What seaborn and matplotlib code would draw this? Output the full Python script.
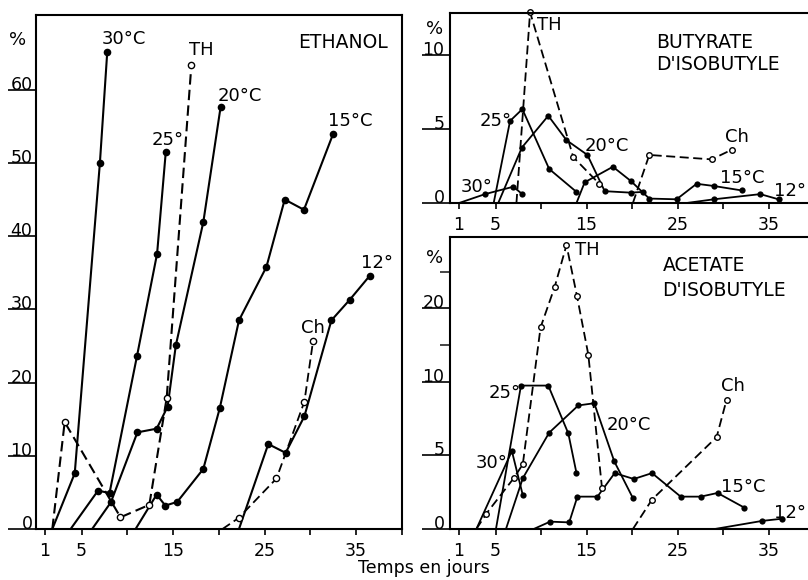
import numpy as np
import pandas as pd
import matplotlib
matplotlib.use('Agg')
import matplotlib.pyplot as plt
import seaborn as sns

# ethanol (%), day on x
e30_x = [1.8, 4.25, 7.0, 7.8]
e30_y = [0, 7.6, 50, 65.1]
e25_x = [3.8, 6.8, 8.05, 11.05, 13.25, 14.2]
e25_y = [0, 5.25, 4.9, 23.6, 37.6, 51.5]
e20_x = [6.15, 8.2, 11.1, 13.2, 14.4, 15.3, 18.3, 20.2]
e20_y = [0, 3.65, 13.2, 13.7, 16.7, 25.1, 41.9, 57.7]
e15_x = [10.9, 13.2, 14.15, 15.45, 18.3, 20.1, 22.2, 25.2, 27.2, 29.3, 32.5]
e15_y = [0, 4.7, 3.2, 3.7, 8.2, 16.5, 28.5, 35.8, 45.0, 43.6, 54.0]
e12_x = [22.2, 25.4, 27.3, 29.35, 32.3, 34.3, 36.5]
e12_y = [0, 11.6, 10.4, 15.4, 28.5, 31.3, 34.6]
eTH_x = [1.8, 3.15, 9.25, 12.4, 14.3, 17.0]
eTH_y = [0, 14.6, 1.6, 3.3, 17.9, 63.4]
eCh_x = [20.4, 22.15, 26.3, 29.35, 30.3]
eCh_y = [0, 1.5, 6.9, 17.4, 25.7]

# butyrate d'isobutyle
b30_x = [1.0, 3.85, 6.95, 7.95]
b30_y = [0, 0.6, 1.1, 0.6]
b25_x = [4.8, 6.6, 7.95, 10.9, 13.9]
b25_y = [0, 5.55, 6.35, 2.3, 0.75]
b20_x = [5.3, 7.9, 10.8, 12.8, 15.1, 17.0, 19.85, 21.2]
b20_y = [0, 3.75, 5.9, 4.25, 3.25, 0.8, 0.7, 0.75]
b15_x = [13.9, 14.8, 17.9, 19.85, 21.9, 24.9, 27.1, 29.0, 32.05]
b15_y = [0, 1.4, 2.45, 1.5, 0.3, 0.25, 1.3, 1.15, 0.85]
b12_x = [26.0, 29.0, 34.1, 36.1]
b12_y = [0, 0.25, 0.6, 0.25]
bTH_x = [7.3, 8.8, 13.55, 16.4]
bTH_y = [0, 12.9, 3.1, 1.3]
bCh_x = [20.1, 21.9, 28.75, 30.95]
bCh_y = [0, 3.25, 2.95, 3.6]

# acetate d'isobutyle
a30_x = [2.9, 6.8, 8.0]
a30_y = [0, 5.3, 2.3]
a25_x = [5.05, 7.8, 10.8, 13.0, 13.9]
a25_y = [0, 9.75, 9.75, 6.5, 3.8]
a20_x = [6.15, 8.0, 10.9, 14.1, 15.85, 18.05, 20.1]
a20_y = [0, 3.45, 6.55, 8.4, 8.55, 4.6, 2.1]
a15_x = [9.2, 11.0, 13.1, 14.0, 16.2, 18.1, 20.2, 22.2, 25.35, 27.55, 29.4, 32.35]
a15_y = [0, 0.5, 0.45, 2.2, 2.2, 3.8, 3.4, 3.8, 2.2, 2.2, 2.45, 1.45]
a12_x = [29.1, 34.3, 36.5]
a12_y = [0, 0.55, 0.7]
aTH_x = [2.9, 4.0, 7.0, 8.0, 9.95, 11.5, 12.8, 13.95, 15.2, 16.7]
aTH_y = [0, 1.05, 3.45, 4.4, 17.4, 22.9, 28.6, 21.7, 13.7, 2.8]
aCh_x = [20.1, 22.2, 29.3, 30.4]
aCh_y = [0, 2.0, 6.25, 8.8]

day_ticks = [1, 5, 10, 15, 20, 25, 30, 35, 40]
day_labels = ['1', '5', '', '15', '', '25', '', '35', '']

sns.set_theme(style='white')
plt.rcParams['font.family'] = ['DejaVu Sans']

W, H = 808, 580
fig = plt.figure(figsize=(W / 100, H / 100), dpi=100)


def box(l, t, r, b):
    return [l / W, 1 - b / H, (r - l) / W, (b - t) / H]


ax_e = fig.add_axes(box(35.85, 15, 35.85 + 40 * 9.15, 529))
ax_b = fig.add_axes(box(450, 13, 450 + 40 * 9.1, 203))
ax_a = fig.add_axes(box(450, 237, 450 + 40 * 9.1, 529))


# acetate axis is compressed above 10 %
def fwd(v):
    v = np.asarray(v, dtype=float)
    return np.where(v <= 10, v, 10 + (v - 10) / 2)


def inv(v):
    v = np.asarray(v, dtype=float)
    return np.where(v <= 10, v, 10 + (v - 10) * 2)


ax_a.set_yscale('function', functions=(fwd, inv))


def draw(ax, x, y, dashed=False, hollow=False, ms=5.0, lw=1.4):
    df = pd.DataFrame({'jour': x, 'pct': y})
    sns.lineplot(data=df, x='jour', y='pct', ax=ax, sort=False, estimator=None,
                 color='black', lw=lw,
                 linestyle=(0, (5, 2.5)) if dashed else '-',
                 marker='o', markersize=ms, markevery=slice(1, None),
                 markerfacecolor='white' if hollow else 'black',
                 markeredgecolor='black', markeredgewidth=1.0 if hollow else 0,
                 clip_on=False)


for xs, ys in [(e30_x, e30_y), (e25_x, e25_y), (e20_x, e20_y), (e15_x, e15_y), (e12_x, e12_y)]:
    draw(ax_e, xs, ys, ms=5.5, lw=1.5)
draw(ax_e, eTH_x, eTH_y, dashed=True, hollow=True, ms=4.5, lw=1.5)
draw(ax_e, eCh_x, eCh_y, dashed=True, hollow=True, ms=4.5, lw=1.3)

for xs, ys in [(b30_x, b30_y), (b25_x, b25_y), (b20_x, b20_y), (b15_x, b15_y), (b12_x, b12_y)]:
    draw(ax_b, xs, ys, ms=4.5, lw=1.3)
draw(ax_b, bTH_x, bTH_y, dashed=True, hollow=True, ms=4.0, lw=1.3)
draw(ax_b, bCh_x, bCh_y, dashed=True, hollow=True, ms=4.0, lw=1.3)

for xs, ys in [(a30_x, a30_y), (a25_x, a25_y), (a20_x, a20_y), (a15_x, a15_y), (a12_x, a12_y)]:
    draw(ax_a, xs, ys, ms=4.5, lw=1.3)
draw(ax_a, aTH_x, aTH_y, dashed=True, hollow=True, ms=4.0, lw=1.3)
draw(ax_a, aCh_x, aCh_y, dashed=True, hollow=True, ms=4.0, lw=1.3)

ax_e.set_xlim(0, 40)
ax_e.set_ylim(0, 70.2)
ax_b.set_xlim(0, 40)
ax_b.set_ylim(0, 12.85)
ax_a.set_xlim(0, 40)
ax_a.set_ylim(0, 29.7)

ax_e.set_yticks([0, 10, 20, 30, 40, 50, 60])
ax_e.set_yticklabels(['0', '10', '20', '30', '40', '50', '60'])
ax_b.set_yticks([0, 5, 10])
ax_b.set_yticklabels(['0', '5', '10'])
ax_a.set_yticks([0, 5, 10, 20])
ax_a.set_yticklabels(['0', '5', '10', '20'])
ax_a.set_yticks([15, 25], minor=True)

for ax, pad in [(ax_e, -17.5), (ax_b, -16), (ax_a, -16)]:
    ax.set_xticks(day_ticks)
    ax.set_xticklabels(day_labels)
    ax.set_xlabel('')
    ax.set_ylabel('')
    ax.tick_params(axis='x', direction='out', length=4, width=1.2, pad=5,
                   labelsize=12.5, bottom=True, colors='black')
    ax.tick_params(axis='y', which='major', direction='out', length=20, width=1.2,
                   pad=pad, labelsize=12.5, left=True, colors='black')
    for lab in ax.get_yticklabels():
        lab.set_verticalalignment('baseline')
    for sp in ax.spines.values():
        sp.set_linewidth(1.5)
        sp.set_color('black')
ax_a.tick_params(axis='y', which='minor', direction='out', length=7, width=1.2, left=True)


def lbl(px, py, s, size=13, ha='center'):
    fig.text(px / W, 1 - py / H, s, ha=ha, va='center', fontsize=size, color='black')


# ethanol labels
lbl(18, 40, '%')
lbl(124, 38.5, '30°C')
lbl(201, 50, 'TH')
lbl(343, 43, 'ETHANOL', 13.5)
lbl(240, 96, '20°C')
lbl(168, 139.5, '25°')
lbl(350, 121, '15°C')
lbl(377, 263, '12°')
lbl(313, 328, 'Ch')

# butyrate labels
lbl(435, 29, '%')
lbl(549, 25, 'TH')
lbl(656, 42.5, 'BUTYRATE', 13.5, ha='left')
lbl(656, 64.5, "D'ISOBUTYLE", 13.5, ha='left')
lbl(496, 121, '25°')
lbl(607, 146, '20°C')
lbl(737, 137, 'Ch')
lbl(742, 178, '15°C')
lbl(477, 187, '30°')
lbl(806, 191, '12°', ha='right')

# acetate labels
lbl(435, 258, '%')
lbl(587, 250, 'TH')
lbl(663, 266, 'ACETATE', 13.5, ha='left')
lbl(662, 290, "D'ISOBUTYLE", 13.5, ha='left')
lbl(505, 393, '25°')
lbl(492, 463, '30°')
lbl(629, 425, '20°C')
lbl(733, 386, 'Ch')
lbl(743, 487, '15°C')
lbl(806, 513, '12°', ha='right')

lbl(424, 568, 'Temps en jours', 12.5)

fig.savefig('out.png', dpi=100, facecolor='white')
